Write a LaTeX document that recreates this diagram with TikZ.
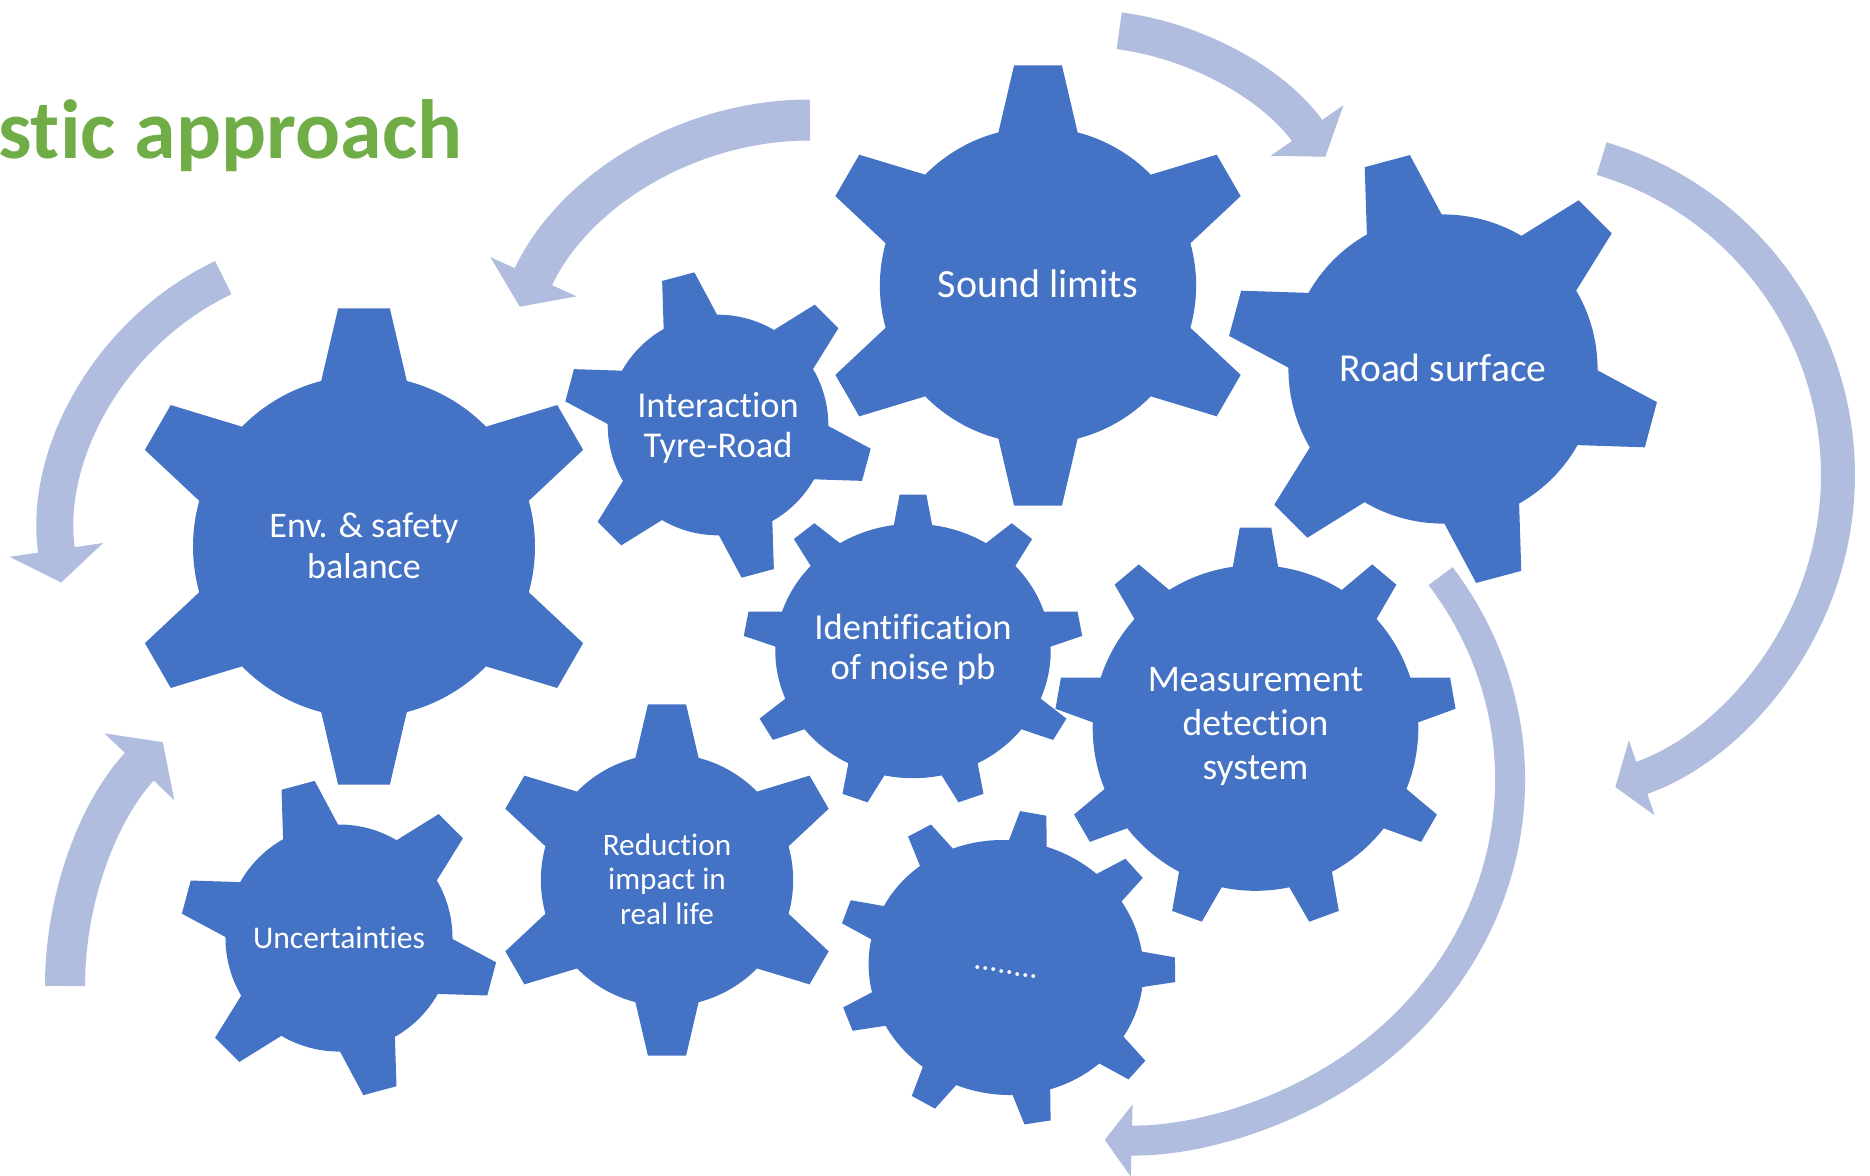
\documentclass[tikz,border=0pt]{standalone}
\usepackage{fontspec}
\setmainfont{Carlito}[RawFeature={-liga;-clig;-calt;-dlig}]
\usepackage{xcolor}
\usepackage{tikz}
\usetikzlibrary{arrows.meta}

\definecolor{cogblue}{RGB}{68,114,196}
\definecolor{arrowblue}{RGB}{176,189,223}
\definecolor{titlegreen}{RGB}{112,173,71}

\tikzset{
  cog/.style={fill=cogblue},
  turnarrow/.style args={#1/#2/#3}{draw=arrowblue, line width=#1, -{Triangle[width=#2, length=#3]}},
}

% six-tooth wheel: centre, x radius, y radius, turn
\newcommand{\cogsix}[4]{%
  \fill[cog, shift={#1}, rotate=#4, xscale=#2, yscale=#3]
    (75.5:0.714) \foreach \a in {90,150,...,420} {
      -- ({\a-14.5}:0.714) -- ({\a-6.2}:1) -- ({\a+6.2}:1) -- ({\a+14.5}:0.714)
      arc[start angle={\a+14.5}, end angle={\a+45.5}, radius=0.714]
    } -- cycle;
}

% nine-tooth wheel: centre, x radius, y radius, turn
\newcommand{\cognine}[4]{%
  \fill[cog, shift={#1}, rotate=#4, xscale=#2, yscale=#3]
    (82:0.81) \foreach \a in {90,130,...,410} {
      -- ({\a-8}:0.81) -- ({\a-4.5}:1) -- ({\a+4.5}:1) -- ({\a+8}:0.81)
      arc[start angle={\a+8}, end angle={\a+32}, radius=0.81]
    } -- cycle;
}

\begin{document}
\begin{tikzpicture}[x=0.5pt, y=0.5pt, >=Stealth, every node/.style={text=white, align=center, inner sep=0pt}]
\useasboundingbox (0,0) rectangle (1870,-1175);

% Title (cut at the left border)
\node[font=\fontsize{42}{50}\selectfont\bfseries, text=titlegreen, anchor=base west] (title) at (-2,-158.6) {stic approach};

% Circular arrows (drawn first to be in background)
\draw[turnarrow={20.5pt/46.5pt/16.5pt}] (810,-120) arc[start angle=90, end angle=155.5, radius=319];
\draw[turnarrow={18.5pt/43.5pt/16pt}] (1119.2,-30.7) arc[start angle=82.3, end angle=34.8, radius=300];
\draw[turnarrow={17pt/39pt/14pt}] (1601.6,-158.6) arc[start angle=73.5, end angle=-71, radius=330];
\draw[turnarrow={15pt/35.5pt/13.5pt}] (1440.6,-576.1) arc[start angle=34.5, end angle=-91.5, x radius=395, y radius=360];
\draw[turnarrow={18.5pt/46.5pt/16.5pt}] (223.3,-277.6) arc[start angle=115.6, end angle=188.4, radius=291];
\draw[turnarrow={20pt/47.5pt/17pt}] (65,-986) arc[start angle=180, end angle=136.3, radius=353];

% Gear wheels
\cogsix{(364,-546.5)}{239.5}{239.5}{0}
\cogsix{(1038,-285.5)}{221.5}{221.5}{0}
\cogsix{(1443,-369)}{216.5}{216.5}{15}
\cogsix{(718,-425)}{154.5}{154.5}{15}
\cognine{(913,-651)}{170}{157}{0}
\cognine{(1255.5,-728)}{201}{201}{0}
\cogsix{(339,-938)}{159}{159}{15}
\cogsix{(667,-880)}{176.7}{176.7}{0}
\cognine{(1006,-967.5)}{170}{157}{-10}

% Labels on the wheels
\node[font=\fontsize{18}{20.5}\selectfont] (env) at (364,-545.5) {Env. \& safety\\balance};
\node[font=\fontsize{20}{24}\selectfont] (sound) at (1038,-284) {Sound limits};
\node[font=\fontsize{19.8}{24}\selectfont] (road) at (1443,-367.5) {Road surface};
\node[font=\fontsize{18.2}{20}\selectfont] (tyre) at (718,-427.4) {Interaction\\Tyre-Road};
\node[font=\fontsize{18.3}{20}\selectfont] (ident) at (913,-650) {Identification\\of noise pb};
\node[font=\fontsize{18.8}{22}\selectfont] (measure) at (1255.5,-726) {Measurement\\detection\\system};
\node[font=\fontsize{15.8}{19}\selectfont] (uncert) at (339,-938) {Uncertainties};
\node[font=\fontsize{15.6}{17.2}\selectfont] (reduce) at (667,-879) {Reduction\\impact in\\real life};
\node[font=\fontsize{16}{18}\selectfont, rotate=-10] (more) at (1006,-972) {........};

\end{tikzpicture}
\end{document}
